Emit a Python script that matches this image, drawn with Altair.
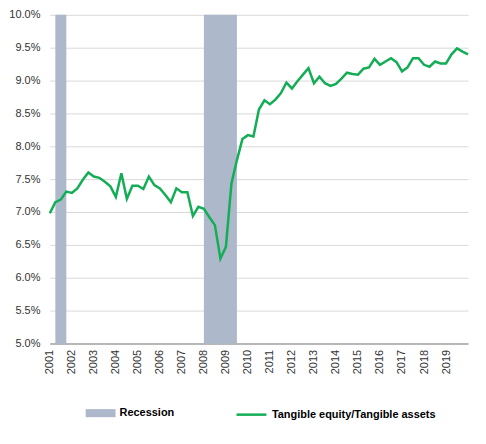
import altair as alt
import pandas as pd

# Quarterly ratio, first point at 2001.0, one value per quarter
start_year = 2001
ratio = [
    6.98, 7.15, 7.19, 7.31,   # 2001
    7.29, 7.36, 7.49, 7.60,   # 2002
    7.54, 7.52, 7.46, 7.39,   # 2003
    7.23, 7.59, 7.20, 7.40,   # 2004
    7.40, 7.35, 7.54, 7.41,   # 2005
    7.36, 7.26, 7.15, 7.36,   # 2006
    7.30, 7.30, 6.94, 7.08,   # 2007
    7.05, 6.92, 6.80, 6.29,   # 2008
    6.47, 7.43, 7.79, 8.11,   # 2009
    8.17, 8.15, 8.56, 8.70,   # 2010
    8.64, 8.71, 8.81, 8.97,   # 2011
    8.88, 8.99, 9.09, 9.19,   # 2012
    8.96, 9.06, 8.96, 8.92,   # 2013
    8.95, 9.03, 9.12, 9.10,   # 2014
    9.09, 9.18, 9.20, 9.33,   # 2015
    9.24, 9.29, 9.34, 9.28,   # 2016
    9.14, 9.20, 9.34, 9.34,   # 2017
    9.24, 9.21, 9.29, 9.26,   # 2018
    9.26, 9.40, 9.49, 9.44,   # 2019
    9.40,
]
series_name = "Tangible equity/Tangible assets"

recession_start = [2001.25, 2008.0]
recession_end = [2001.75, 2009.5]

year_ticks = list(range(2001, 2020))
pct_ticks = [5.0, 5.5, 6.0, 6.5, 7.0, 7.5, 8.0, 8.5, 9.0, 9.5, 10.0]

line_df = pd.DataFrame({
    "t": [start_year + i / 4 for i in range(len(ratio))],
    "ratio": ratio,
    "series": series_name,
})
rec_df = pd.DataFrame({
    "start": recession_start,
    "end": recession_end,
    "label": "Recession",
})

x_scale = alt.Scale(domain=[2001, 2020], nice=False, zero=False)
x_axis = alt.Axis(values=year_ticks, format="d", labelAngle=-90, title=None,
                  grid=False, domain=True, domainColor="#A6A6A6", domainWidth=1.5,
                  labelPadding=6)
y_scale = alt.Scale(domain=[5, 10], nice=False, zero=False)
y_axis = alt.Axis(values=pct_ticks, labelExpr="format(datum.value, '.1f') + '%'",
                  title=None, grid=True, domain=False, labelPadding=10)

legend_common = dict(orient="none", title=None, padding=0, labelFont="Liberation Sans",
                     labelFontWeight="bold", labelFontSize=11, labelColor="#000000",
                     labelOffset=4, labelLimit=0, symbolSize=900)

recession = alt.Chart(rec_df).mark_rect().encode(
    x=alt.X("start:Q", scale=x_scale, axis=x_axis),
    x2="end:Q",
    fill=alt.Fill("label:N", scale=alt.Scale(domain=["Recession"], range=["#ADB9CA"]),
                  legend=alt.Legend(legendX=36, legendY=385,
                                    symbolType="M-1,-0.27H1V0.27H-1Z",
                                    symbolStrokeWidth=0, symbolOpacity=1,
                                    **legend_common)),
)

line = alt.Chart(line_df).mark_line(strokeWidth=2.5).encode(
    x=alt.X("t:Q", scale=x_scale, axis=x_axis),
    y=alt.Y("ratio:Q", scale=y_scale, axis=y_axis),
    stroke=alt.Stroke("series:N", scale=alt.Scale(domain=[series_name], range=["#12AD55"]),
                      legend=alt.Legend(legendX=186, legendY=385, symbolType="stroke",
                                        symbolStrokeWidth=2.5, **legend_common)),
)

chart = alt.layer(recession, line).resolve_scale(fill="independent", stroke="independent").properties(
    width=420,
    height=330,
    padding={"left": 0, "top": 0, "right": 5, "bottom": 0},
).configure_view(
    stroke=None
).configure_axis(
    labelFont="Liberation Sans",
    labelFontSize=11,
    labelColor="#333333",
    ticks=False,
    gridColor="#D9D9D9",
    gridWidth=1,
)

chart.save("out.html", embed_options={"renderer": "svg", "actions": False})
